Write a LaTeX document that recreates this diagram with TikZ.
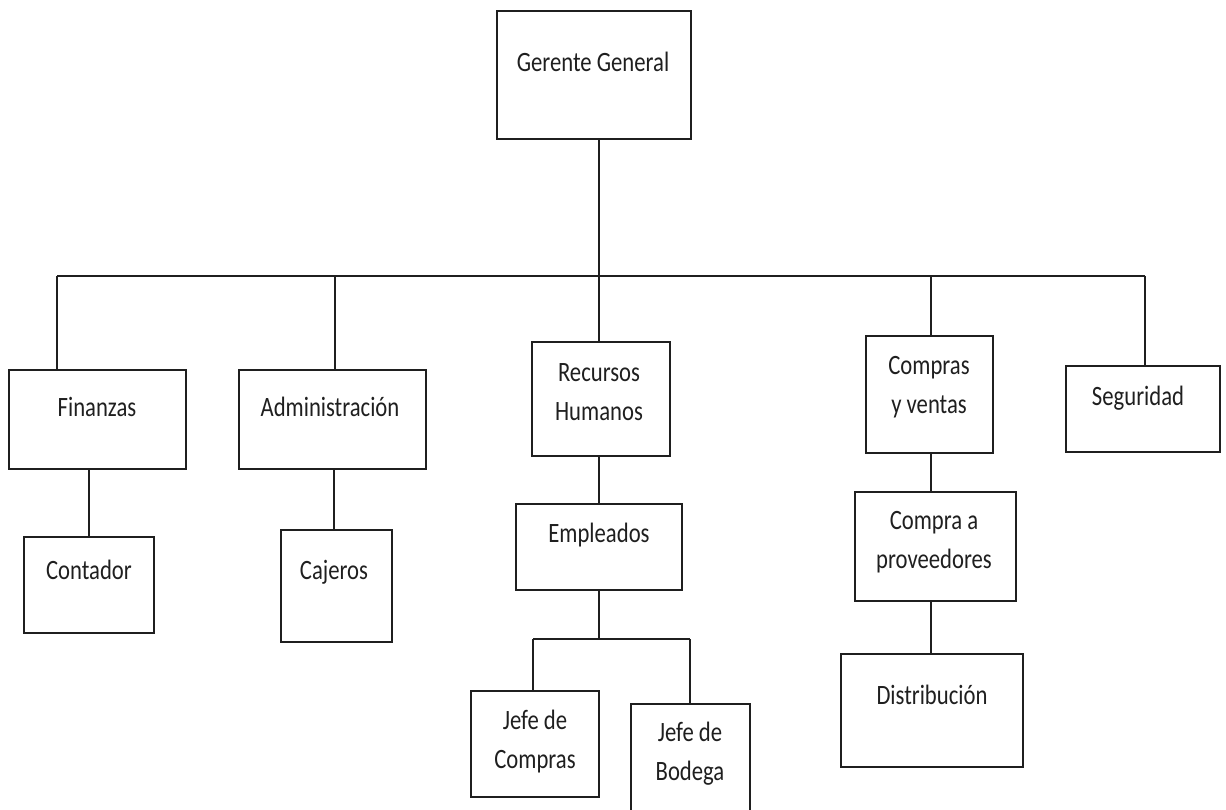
\documentclass[tikz,border=0pt]{standalone}
\usepackage{fontspec}
\setmainfont[FakeStretch=0.81]{Carlito}
\begin{document}
\begin{tikzpicture}[x=1pt,y=-1pt,
  line width=1.6pt, draw=black!88,
  box/.style={draw=black!88, line width=1.6pt, inner sep=0pt},
  lbl/.style={text=black!88, align=center, inner sep=0pt,
    font={\fontsize{28}{39}\selectfont}},
  link/.style={draw=black!88, line width=1.6pt}]
\useasboundingbox (0,0) rectangle (1226,810);

% boxes given as corner pairs
\newcommand{\orgbox}[5]{%
  \node[box, minimum width={#4-#2}, minimum height={#5-#3}] (#1) at ({(#2+#4)/2},{(#3+#5)/2}) {};}

\orgbox{gg}{497}{11}{691}{139}
\orgbox{fin}{9}{370}{186}{469}
\orgbox{adm}{239}{370}{426}{469}
\orgbox{rh}{532}{342}{670}{456}
\orgbox{cv}{866}{336}{993}{453}
\orgbox{seg}{1066}{366}{1220}{452}
\orgbox{con}{24}{537}{154}{633}
\orgbox{caj}{281}{530}{392}{642}
\orgbox{emp}{516}{504}{682}{590}
\orgbox{jc}{471}{691}{599}{797}
\orgbox{jb}{631}{704}{750}{822}
\orgbox{cp}{855}{492}{1016}{601}
\orgbox{dis}{841}{654}{1023}{767}

% labels
\node[lbl] (tgg) at (593,62) {Gerente General};
\node[lbl] (tfin) at (97,407) {Finanzas};
\node[lbl] (tadm) at (330,407) {Administración};
\node[lbl] (trh) at (599,392) {Recursos\\Humanos};
\node[lbl] (tcv) at (929,387) {Compras\\y ventas};
\node[lbl] (tseg) at (1138,398) {Seguridad};
\node[lbl] (tcon) at (89,570) {Contador};
\node[lbl] (tcaj) at (334,572) {Cajeros};
\node[lbl] (temp) at (599,535) {Empleados};
\node[lbl] (tjc) at (535,742) {Jefe de\\Compras};
\node[lbl] (tjb) at (690,754) {Jefe de\\Bodega};
\node[lbl] (tcp) at (934,542) {Compra a\\proveedores};
\node[lbl] (tdis) at (932,695) {Distribución};

% branch points
\coordinate (bus) at (599,276);
\coordinate (busL) at (57,276);
\coordinate (busA) at (335,276);
\coordinate (busC) at (931,276);
\coordinate (busR) at (1145,276);
\coordinate (xfin) at (89,0);
\coordinate (xadm) at (334,0);
\coordinate (xcv) at (931,0);
\coordinate (split) at (599,639);
\coordinate (splitL) at (533,639);
\coordinate (splitR) at (690,639);

% connectors
\draw[link] (gg.south -| bus) -- (bus);
\draw[link] (busL) -- (busR);
\draw[link] (busL) -- (fin.north -| busL);
\draw[link] (busA) -- (adm.north -| busA);
\draw[link] (bus) -- (rh.north -| bus);
\draw[link] (busC) -- (cv.north -| busC);
\draw[link] (busR) -- (seg.north -| busR);
\draw[link] (fin.south -| xfin) -- (con.north -| xfin);
\draw[link] (adm.south -| xadm) -- (caj.north -| xadm);
\draw[link] (rh.south -| bus) -- (emp.north -| bus);
\draw[link] (emp.south -| split) -- (split);
\draw[link] (splitL) -- (splitR);
\draw[link] (splitL) -- (jc.north -| splitL);
\draw[link] (splitR) -- (jb.north -| splitR);
\draw[link] (cv.south -| xcv) -- (cp.north -| xcv);
\draw[link] (cp.south -| xcv) -- (dis.north -| xcv);
\end{tikzpicture}
\end{document}
